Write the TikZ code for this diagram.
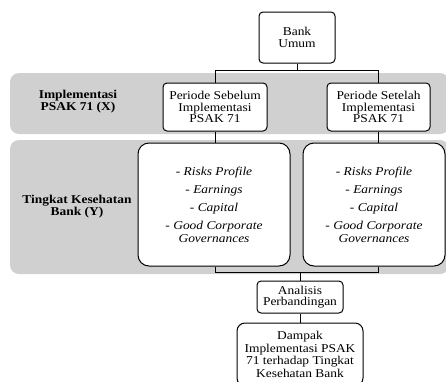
\documentclass[tikz,border=0pt]{standalone}
\usepackage{fontspec}
\setmainfont{Liberation Serif}[FakeStretch=1.12]
\usepackage{xcolor}
\usepackage{tikz}
\usetikzlibrary{positioning,calc}
\definecolor{bandgray}{HTML}{D0D0D0}
\tikzset{
  casebox/.style={draw=black,rounded corners=4pt,fill=white,align=center,
    line width=1pt,font=\fontsize{12}{11.5}\selectfont,inner sep=2pt},
  listbox/.style={casebox,rounded corners=11pt,font=\fontsize{12}{13}\selectfont},
  bandlabel/.style={font=\fontsize{12}{12}\selectfont\bfseries,align=center},
  linkline/.style={draw=black,line width=0.8pt}
}

\begin{document}
\begin{tikzpicture}[x=1pt,y=1pt]
  \useasboundingbox (0,0) rectangle (446,-381);
  % grey bands
  \fill[bandgray,rounded corners=9pt] (10,-73) rectangle (449,-134);
  \fill[bandgray,rounded corners=9pt] (10,-140) rectangle (449,-274);
  \node[bandlabel] (labx) at (78,-102) {Implementasi\\PSAK 71 (X)};
  \node[bandlabel] (laby) at (77,-207) {Tingkat Kesehatan\\Bank (Y)};
  \node[casebox,minimum width=76pt,minimum height=51pt] (bank) at (297,-37.5) {Bank\\Umum};
  \node[casebox,minimum width=104pt,minimum height=48pt] (sebelum) at (215,-107) {Periode Sebelum\\Implementasi\\PSAK 71};
  \node[casebox,minimum width=103pt,minimum height=48pt] (setelah) at (378.5,-107) {Periode Setelah\\Implementasi\\PSAK 71};
  \node[listbox,minimum width=152pt,minimum height=123pt] (risk1) at (214,-204.5)
    {- \textit{Risks Profile}\\[5pt] - \textit{Earnings}\\[5pt] - \textit{Capital}\\[5pt] - \textit{Good Corporate}\\\textit{Governances}};
  \node[listbox,minimum width=142pt,minimum height=123pt] (risk2) at (374,-204.5)
    {- \textit{Risks Profile}\\[5pt] - \textit{Earnings}\\[5pt] - \textit{Capital}\\[5pt] - \textit{Good Corporate}\\\textit{Governances}};
  \node[casebox,minimum width=86pt,minimum height=32pt] (analisis) at (300,-297) {Analisis\\Perbandingan};
  \node[casebox,rounded corners=8pt,minimum width=126pt,minimum height=63pt,font=\fontsize{12}{12.5}\selectfont] (dampak) at (300,-354.5)
    {Dampak\\Implementasi PSAK\\71 terhadap Tingkat\\Kesehatan Bank};
  % connectors
  \coordinate (topsplit) at ($(bank.south)+(0,-7)$);
  \coordinate (botjoin) at ($(analisis.north)+(0,8)$);
  \draw[linkline] (bank.south) -- (topsplit);
  \draw[linkline] (topsplit) -| (sebelum.north);
  \draw[linkline] (topsplit) -| (setelah.north);
  \draw[linkline] (sebelum.south) -- (sebelum.south |- risk1.north);
  \draw[linkline] (setelah.south) -- (setelah.south |- risk2.north);
  \draw[linkline] (sebelum.south |- risk1.south) |- (botjoin);
  \draw[linkline] (setelah.south |- risk2.south) |- (botjoin);
  \draw[linkline] (botjoin) -- (analisis.north);
  \draw[linkline] (analisis.south) -- (dampak.north);
\end{tikzpicture}
\end{document}
